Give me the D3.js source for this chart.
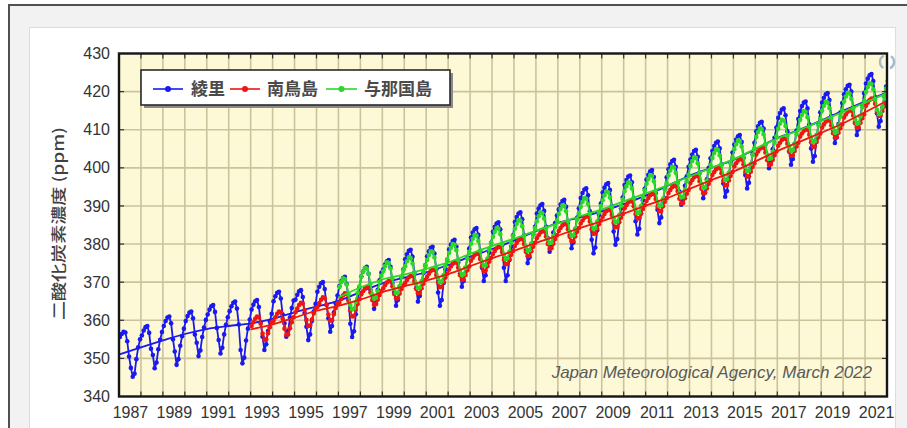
<!DOCTYPE html>
<html>
<head>
<meta charset="utf-8">
<script src="https://cdn.jsdelivr.net/npm/d3@7"></script>
<style>
  html, body { margin: 0; padding: 0; background: #ffffff; }
  svg { display: block; }
</style>
</head>
<body>
<svg id="chart" width="907" height="428"></svg>
<script>
// Monthly CO2 concentration (ppm), January to December, one row per year.
const ryoriStart = 1987;
const ryoriMonthly = [
  355.6, 356.4, 357.0, 356.8, 354.5, 350.5, 347.5, 345.2, 346.0, 349.8, 352.9, 355.0,
  356.0, 357.3, 358.2, 358.5, 356.7, 352.5, 350.9, 347.4, 348.9, 352.4, 354.9, 356.9,
  358.5, 359.8, 360.7, 361.0, 359.2, 355.0, 351.8, 348.3, 349.8, 353.3, 355.8, 357.8,
  359.8, 361.1, 362.0, 362.3, 360.5, 356.3, 354.1, 350.6, 352.1, 355.6, 358.1, 360.1,
  361.5, 362.8, 363.7, 364.0, 362.2, 358.0, 354.8, 351.3, 352.8, 356.3, 358.8, 360.8,
  362.4, 363.7, 364.6, 364.9, 363.1, 358.9, 352.2, 348.7, 350.2, 354.7, 357.8, 360.2,
  362.8, 364.1, 365.0, 365.3, 363.5, 359.3, 355.7, 352.2, 353.7, 357.2, 359.7, 361.7,
  365.0, 366.3, 367.2, 367.5, 365.7, 361.5, 359.2, 355.7, 357.2, 360.7, 363.2, 365.2,
  365.4, 366.7, 367.6, 367.9, 366.1, 361.9, 358.3, 354.8, 356.3, 359.8, 362.3, 364.3,
  367.5, 368.8, 369.7, 370.0, 368.2, 364.0, 360.5, 357.0, 358.5, 362.0, 364.5, 366.5,
  368.9, 370.2, 371.1, 371.4, 369.6, 365.4, 359.1, 355.6, 357.1, 361.6, 365.6, 368.6,
  371.5, 372.8, 373.7, 374.0, 372.2, 368.0, 366.5, 363.0, 364.5, 368.0, 370.5, 372.5,
  373.3, 374.6, 375.5, 375.8, 374.0, 369.8, 367.3, 363.8, 365.3, 368.8, 371.3, 373.3,
  376.0, 377.3, 378.2, 378.5, 376.7, 372.5, 368.4, 364.9, 366.4, 369.9, 372.4, 374.4,
  376.8, 378.1, 379.0, 379.3, 377.5, 373.3, 367.3, 363.8, 365.3, 369.8, 373.3, 375.8,
  378.6, 379.9, 380.8, 381.1, 379.3, 375.1, 372.3, 368.8, 370.3, 373.8, 376.3, 378.8,
  381.7, 383.0, 383.9, 384.2, 382.4, 378.2, 373.8, 370.3, 371.8, 375.3, 377.8, 380.3,
  383.2, 384.5, 385.4, 385.7, 383.9, 379.7, 373.8, 370.3, 371.8, 375.8, 379.3, 382.3,
  385.8, 387.1, 388.0, 388.3, 386.5, 382.3, 378.5, 375.0, 376.5, 380.0, 382.5, 384.5,
  388.0, 389.3, 390.2, 390.5, 388.7, 384.5, 381.5, 378.0, 379.5, 383.0, 385.5, 387.5,
  389.1, 390.4, 391.3, 391.6, 389.8, 385.6, 382.4, 378.9, 380.4, 383.9, 386.9, 389.4,
  392.1, 393.4, 394.3, 394.6, 392.8, 388.6, 381.1, 377.6, 379.1, 383.6, 387.6, 390.6,
  393.5, 394.8, 395.7, 396.0, 394.2, 390.0, 383.3, 379.8, 381.3, 385.8, 389.3, 392.3,
  395.5, 396.8, 397.7, 398.0, 396.2, 392.0, 386.0, 382.5, 384.0, 388.0, 391.5, 394.5,
  396.9, 398.2, 399.1, 399.4, 397.6, 393.4, 389.0, 385.5, 387.0, 391.0, 394.5, 397.5,
  399.6, 400.9, 401.8, 402.1, 400.3, 396.1, 393.8, 390.3, 391.8, 395.3, 397.8, 400.3,
  402.2, 403.5, 404.4, 404.7, 402.9, 398.7, 395.5, 392.0, 393.5, 397.0, 400.0, 402.5,
  404.4, 405.7, 406.6, 406.9, 405.1, 400.9, 395.9, 392.4, 393.9, 397.9, 401.4, 404.0,
  406.1, 407.4, 408.3, 408.6, 406.8, 402.6, 398.1, 394.6, 396.1, 400.1, 403.6, 406.6,
  409.6, 410.9, 411.8, 412.1, 410.3, 406.1, 403.4, 399.9, 401.4, 404.9, 407.9, 410.6,
  413.1, 414.4, 415.3, 415.6, 413.8, 409.6, 404.3, 400.8, 402.3, 406.3, 409.8, 412.8,
  414.9, 416.2, 417.1, 417.4, 415.6, 411.4, 405.1, 401.6, 403.1, 407.6, 411.6, 414.6,
  417.1, 418.4, 419.3, 419.6, 417.8, 413.6, 410.0, 406.5, 408.0, 411.5, 414.5, 417.0,
  419.3, 420.6, 421.5, 421.8, 420.0, 415.8, 412.1, 408.6, 410.1, 413.6, 416.6, 419.6,
  422.1, 423.4, 424.3, 424.6, 422.8, 418.6, 414.3, 410.8, 412.3, 415.8, 418.8, 421.3,
  422.8
];

const minamitorishimaStart = 1993;
const minamitorishimaMonthly = [
  358.5, 359.5, 360.4, 361.0, 360.8, 359.1, 356.5, 354.9, 355.0, 356.6, 358.2, 359.5,
  359.8, 360.8, 361.7, 362.3, 362.1, 360.4, 357.8, 356.2, 356.3, 357.9, 359.5, 360.8,
  362.1, 363.1, 364.0, 364.6, 364.4, 362.7, 360.1, 358.5, 358.6, 360.2, 361.8, 363.1,
  363.5, 364.5, 365.4, 366.0, 365.8, 364.1, 361.5, 359.9, 360.0, 361.6, 363.2, 364.5,
  364.6, 365.6, 366.5, 367.1, 366.9, 365.2, 362.6, 361.0, 361.1, 362.7, 364.3, 365.6,
  366.8, 367.6, 368.3, 368.7, 368.6, 367.3, 365.3, 364.1, 364.2, 365.4, 366.6, 367.6,
  368.4, 369.2, 369.9, 370.3, 370.2, 368.9, 366.9, 365.7, 365.8, 367.0, 368.2, 369.2,
  369.8, 370.6, 371.3, 371.7, 371.6, 370.3, 368.3, 367.1, 367.2, 368.4, 369.6, 370.6,
  371.4, 372.2, 372.9, 373.3, 373.2, 371.9, 369.9, 368.7, 368.8, 370.0, 371.2, 372.2,
  373.3, 374.1, 374.8, 375.2, 375.1, 373.8, 371.8, 370.6, 370.7, 371.9, 373.1, 374.1,
  375.6, 376.4, 377.1, 377.5, 377.4, 376.1, 374.1, 372.9, 373.0, 374.2, 375.4, 376.4,
  377.4, 378.2, 378.9, 379.3, 379.2, 377.9, 375.9, 374.7, 374.8, 376.0, 377.2, 378.2,
  379.5, 380.3, 381.0, 381.4, 381.3, 380.0, 378.0, 376.8, 376.9, 378.1, 379.3, 380.3,
  381.5, 382.3, 383.0, 383.4, 383.3, 382.0, 380.0, 378.8, 378.9, 380.1, 381.3, 382.3,
  383.4, 384.2, 384.9, 385.3, 385.2, 383.9, 381.9, 380.7, 380.8, 382.0, 383.2, 384.2,
  385.4, 386.2, 386.9, 387.3, 387.2, 385.9, 383.9, 382.7, 382.8, 384.0, 385.2, 386.2,
  387.1, 387.9, 388.6, 389.0, 388.9, 387.6, 385.6, 384.4, 384.5, 385.7, 386.9, 387.9,
  389.4, 390.2, 390.9, 391.3, 391.2, 389.9, 387.9, 386.7, 386.8, 388.0, 389.2, 390.2,
  391.3, 392.1, 392.8, 393.2, 393.1, 391.8, 389.8, 388.6, 388.7, 389.9, 391.1, 392.1,
  393.4, 394.2, 394.9, 395.3, 395.2, 393.9, 391.9, 390.7, 390.8, 392.0, 393.2, 394.2,
  396.0, 396.8, 397.5, 397.9, 397.8, 396.5, 394.5, 393.3, 393.4, 394.6, 395.8, 396.8,
  398.1, 398.9, 399.6, 400.0, 399.9, 398.6, 396.6, 395.4, 395.5, 396.7, 397.9, 398.9,
  400.4, 401.2, 401.9, 402.3, 402.2, 400.9, 398.9, 397.7, 397.8, 399.0, 400.2, 401.2,
  403.5, 404.3, 405.0, 405.4, 405.3, 404.0, 402.0, 400.8, 400.9, 402.1, 403.3, 404.3,
  405.8, 406.6, 407.3, 407.7, 407.6, 406.3, 404.3, 403.1, 403.2, 404.4, 405.6, 406.6,
  408.2, 409.0, 409.7, 410.1, 410.0, 408.7, 406.7, 405.5, 405.6, 406.8, 408.0, 409.0,
  410.6, 411.4, 412.1, 412.5, 412.4, 411.1, 409.1, 407.9, 408.0, 409.2, 410.4, 411.4,
  413.2, 414.0, 414.7, 415.1, 415.0, 413.7, 411.7, 410.5, 410.6, 411.8, 413.0, 414.0,
  416.3, 417.1, 417.8, 418.2, 418.1, 416.8, 414.8, 413.6, 413.7, 414.9, 416.1, 417.1,
  417.8
];

const yonagunijimaStart = 1997;
const yonagunijimaMonthly = [
  368.7, 370.0, 371.0, 370.8, 369.4, 366.8, 364.0, 362.9, 363.1, 364.8, 367.2, 368.9,
  371.5, 372.8, 373.8, 373.6, 372.2, 369.6, 366.8, 365.7, 365.9, 367.6, 370.0, 371.7,
  372.9, 374.2, 375.2, 375.0, 373.6, 371.0, 368.2, 367.1, 367.3, 369.0, 371.4, 373.1,
  374.2, 375.5, 376.5, 376.3, 374.9, 372.3, 369.5, 368.4, 368.6, 370.3, 372.7, 374.4,
  375.8, 377.1, 378.1, 377.9, 376.5, 373.9, 371.1, 370.0, 370.2, 371.9, 374.3, 376.0,
  377.7, 379.0, 380.0, 379.8, 378.4, 375.8, 373.0, 371.9, 372.1, 373.8, 376.2, 377.9,
  380.1, 381.4, 382.4, 382.2, 380.8, 378.2, 375.4, 374.3, 374.5, 376.2, 378.6, 380.3,
  381.9, 383.2, 384.2, 384.0, 382.6, 380.0, 377.2, 376.1, 376.3, 378.0, 380.4, 382.1,
  384.0, 385.3, 386.3, 386.1, 384.7, 382.1, 379.3, 378.2, 378.4, 380.1, 382.5, 384.2,
  386.0, 387.3, 388.3, 388.1, 386.7, 384.1, 381.3, 380.2, 380.4, 382.1, 384.5, 386.2,
  387.9, 389.2, 390.2, 390.0, 388.6, 386.0, 383.2, 382.1, 382.3, 384.0, 386.4, 388.1,
  389.8, 391.1, 392.1, 391.9, 390.5, 387.9, 385.1, 384.0, 384.2, 385.9, 388.3, 390.0,
  391.5, 392.8, 393.8, 393.6, 392.2, 389.6, 386.8, 385.7, 385.9, 387.6, 390.0, 391.7,
  393.9, 395.2, 396.2, 396.0, 394.6, 392.0, 389.2, 388.1, 388.3, 390.0, 392.4, 394.1,
  395.8, 397.1, 398.1, 397.9, 396.5, 393.9, 391.1, 390.0, 390.2, 391.9, 394.3, 396.0,
  398.0, 399.3, 400.3, 400.1, 398.7, 396.1, 393.3, 392.2, 392.4, 394.1, 396.5, 398.2,
  400.5, 401.8, 402.8, 402.6, 401.2, 398.6, 395.8, 394.7, 394.9, 396.6, 399.0, 400.7,
  402.6, 403.9, 404.9, 404.7, 403.3, 400.7, 397.9, 396.8, 397.0, 398.7, 401.1, 402.8,
  404.9, 406.2, 407.2, 407.0, 405.6, 403.0, 400.2, 399.1, 399.3, 401.0, 403.4, 405.1,
  408.1, 409.4, 410.4, 410.2, 408.8, 406.2, 403.4, 402.3, 402.5, 404.2, 406.6, 408.3,
  410.3, 411.6, 412.6, 412.4, 411.0, 408.4, 405.6, 404.5, 404.7, 406.4, 408.8, 410.5,
  412.6, 413.9, 414.9, 414.7, 413.3, 410.7, 407.9, 406.8, 407.0, 408.7, 411.1, 412.8,
  415.0, 416.3, 417.3, 417.1, 415.7, 413.1, 410.3, 409.2, 409.4, 411.1, 413.5, 415.2,
  417.4, 418.7, 419.7, 419.5, 418.1, 415.5, 412.7, 411.6, 411.8, 413.5, 415.9, 417.6,
  419.9, 421.2, 422.2, 422.0, 420.6, 418.0, 415.2, 414.1, 414.3, 416.0, 418.6, 420.8,
  421.8
];

// Deseasonalized trend (ppm) on 1 January of each year.
const ryoriTrend = [
  351.0, 352.9, 354.7, 356.4, 357.7, 358.5, 359.2, 360.4, 362.1, 363.6,
  365.1, 367.4, 369.7, 371.2, 372.6, 374.5, 376.7, 378.7, 380.9, 383.4,
  385.5, 387.0, 388.6, 390.5, 392.7, 395.3, 397.9, 400.0, 402.1, 404.9,
  407.8, 410.0, 412.4, 415.0, 417.4, 419.8
];
const minamitorishimaTrend = [
  357.6, 358.9, 360.7, 362.5, 363.8, 365.4, 367.4, 368.9, 370.4, 372.1,
  374.2, 376.3, 378.2, 380.3, 382.2, 384.2, 386.0, 388.0, 390.1, 392.1,
  394.5, 396.8, 399.0, 401.7, 404.4, 406.8, 409.2, 411.7, 414.6, 417.6
];
const yonagunijimaTrend = [
  366.0, 368.6, 370.7, 372.0, 373.5, 375.2, 377.4, 379.5, 381.4, 383.5,
  385.4, 387.3, 389.1, 391.2, 393.3, 395.4, 397.7, 400.0, 402.2, 405.0,
  407.7, 409.9, 412.3, 414.7, 417.1, 419.6
];

const stationNames = ["綾里", "南鳥島", "与那国島"];
const yTicks = [340, 350, 360, 370, 380, 390, 400, 410, 420, 430];
const xLabelYears = [1987, 1989, 1991, 1993, 1995, 1997, 1999, 2001, 2003, 2005,
                     2007, 2009, 2011, 2013, 2015, 2017, 2019, 2021];
const yAxisTitle = "二酸化炭素濃度 (ppm)";
const creditText = "Japan Meteorological Agency, March 2022";

// ---- drawing ----
const svg = d3.select("#chart");
const colors = ["#1a1af0", "#ee1515", "#2ad82a"];
const latinFont = "'Liberation Sans', Arial, Helvetica, sans-serif";
const cjkFont = "'Noto Sans CJK JP', 'Noto Sans CJK SC', sans-serif";

const plot = { left: 119, right: 887, top: 53.5, bottom: 396.5 };
const x = d3.scaleLinear().domain([1987, 2022]).range([plot.left, plot.right]);
const y = d3.scaleLinear().domain([340, 430]).range([plot.bottom, plot.top]);

// page frame and white card
svg.append("rect").attr("width", 907).attr("height", 428).attr("fill", "#ffffff");
svg.append("rect").attr("x", 9).attr("y", 5).attr("width", 1000).attr("height", 1000)
  .attr("fill", "#f2f2f2").attr("stroke", "#505050").attr("stroke-width", 2);
svg.append("rect").attr("x", 29.5).attr("y", 27.5).attr("width", 866).attr("height", 500)
  .attr("fill", "#ffffff").attr("stroke", "#dddddd").attr("stroke-width", 1);

// plot background
svg.append("rect")
  .attr("x", plot.left).attr("y", plot.top)
  .attr("width", plot.right - plot.left).attr("height", plot.bottom - plot.top)
  .attr("fill", "#fdf8d6");

// grid: every year and every 10 ppm
const gridYears = d3.range(1988, 2022);
const grid = svg.append("g").attr("stroke", "#cbc39c").attr("stroke-width", 1.6);
grid.selectAll("line.v").data(gridYears).join("line").attr("class", "v")
  .attr("x1", d => x(d)).attr("x2", d => x(d))
  .attr("y1", plot.top).attr("y2", plot.bottom);
grid.selectAll("line.h").data(yTicks.slice(1, -1)).join("line").attr("class", "h")
  .attr("x1", plot.left).attr("x2", plot.right)
  .attr("y1", d => y(d)).attr("y2", d => y(d));

// credit line inside the plot
svg.append("text")
  .attr("x", 872).attr("y", 378)
  .attr("text-anchor", "end")
  .attr("font-family", latinFont).attr("font-style", "italic")
  .attr("font-size", 17).attr("fill", "#5a5a5a")
  .text(creditText);

// data
svg.append("clipPath").attr("id", "plotClip").append("rect")
  .attr("x", plot.left).attr("y", plot.top)
  .attr("width", plot.right - plot.left).attr("height", plot.bottom - plot.top);
const dataLayer = svg.append("g").attr("clip-path", "url(#plotClip)");

function monthlyPoints(startYear, values) {
  return values.map((v, i) => ({ t: startYear + (i + 0.5) / 12, v }));
}
function trendPoints(startYear, values) {
  return values.map((v, i) => ({ t: startYear + i, v }));
}

const series = [
  { monthly: monthlyPoints(ryoriStart, ryoriMonthly), trend: trendPoints(ryoriStart, ryoriTrend) },
  { monthly: monthlyPoints(minamitorishimaStart, minamitorishimaMonthly), trend: trendPoints(minamitorishimaStart, minamitorishimaTrend) },
  { monthly: monthlyPoints(yonagunijimaStart, yonagunijimaMonthly), trend: trendPoints(yonagunijimaStart, yonagunijimaTrend) }
];

const line = d3.line().x(d => x(d.t)).y(d => y(d.v));
const smooth = d3.line().x(d => x(d.t)).y(d => y(d.v)).curve(d3.curveMonotoneX);

function drawMonthly(k) {
  const s = series[k];
  const g = dataLayer.append("g");
  g.append("path").datum(s.monthly)
    .attr("d", line).attr("fill", "none")
    .attr("stroke", colors[k]).attr("stroke-width", 1.8).attr("stroke-linejoin", "round");
  g.selectAll("circle").data(s.monthly).join("circle")
    .attr("cx", d => x(d.t)).attr("cy", d => y(d.v)).attr("r", 2.3)
    .attr("fill", colors[k]);
}
function drawTrend(k) {
  dataLayer.append("path").datum(series[k].trend)
    .attr("d", smooth).attr("fill", "none")
    .attr("stroke", colors[k]).attr("stroke-width", 1.8);
}
// stacking: Ryori, Minamitorishima, Yonagunijima; the Minamitorishima trend stays on top
drawMonthly(0);
drawTrend(0);
drawMonthly(1);
drawMonthly(2);
drawTrend(2);
drawTrend(1);

// inner tick marks
const ticks = svg.append("g").attr("stroke", "#333").attr("stroke-width", 1.2);
ticks.selectAll("line.tb").data(gridYears).join("line").attr("class", "tb")
  .attr("x1", d => x(d)).attr("x2", d => x(d))
  .attr("y1", plot.bottom).attr("y2", plot.bottom - 5);
ticks.selectAll("line.tt").data(gridYears).join("line").attr("class", "tt")
  .attr("x1", d => x(d)).attr("x2", d => x(d))
  .attr("y1", plot.top).attr("y2", plot.top + 5);
ticks.selectAll("line.tl").data(yTicks.slice(1, -1)).join("line").attr("class", "tl")
  .attr("x1", plot.left).attr("x2", plot.left + 5)
  .attr("y1", d => y(d)).attr("y2", d => y(d));
ticks.selectAll("line.tr").data(yTicks.slice(1, -1)).join("line").attr("class", "tr")
  .attr("x1", plot.right).attr("x2", plot.right - 5)
  .attr("y1", d => y(d)).attr("y2", d => y(d));

// plot frame
svg.append("rect")
  .attr("x", plot.left).attr("y", plot.top)
  .attr("width", plot.right - plot.left).attr("height", plot.bottom - plot.top)
  .attr("fill", "none").attr("stroke", "#151515").attr("stroke-width", 2.4);

// axes (labels only)
const xAxis = d3.axisBottom(x)
  .tickValues(xLabelYears.map(v => v + 0.5))
  .tickFormat(d => String(Math.floor(d)))
  .tickSize(0).tickPadding(10);
const gx = svg.append("g").attr("transform", `translate(0,${plot.bottom})`).call(xAxis);
gx.select(".domain").remove();
gx.selectAll("text").attr("font-family", latinFont).attr("font-size", 16).attr("fill", "#333");

const yAxis = d3.axisLeft(y).tickValues(yTicks).tickSize(0).tickPadding(9);
const gy = svg.append("g").attr("transform", `translate(${plot.left},0)`).call(yAxis);
gy.select(".domain").remove();
gy.selectAll("text").attr("font-family", latinFont).attr("font-size", 16).attr("fill", "#333");

// y axis title
svg.append("text")
  .attr("transform", "translate(64,223.5) rotate(-90)")
  .attr("text-anchor", "middle")
  .attr("font-family", cjkFont).attr("font-size", 15).attr("font-weight", 500)
  .attr("fill", "#404040")
  .attr("textLength", 193).attr("lengthAdjust", "spacingAndGlyphs")
  .text(yAxisTitle);

// legend
const legend = svg.append("g");
legend.append("rect").attr("x", 144).attr("y", 73).attr("width", 309).attr("height", 35)
  .attr("fill", "#8a8a8a");
legend.append("rect").attr("x", 141).attr("y", 70).attr("width", 309).attr("height", 35)
  .attr("fill", "#ffffff").attr("stroke", "#2a2a2a").attr("stroke-width", 1.6);
const legendItems = [
  { x0: 153, x1: 183, tx: 191 },
  { x0: 230, x1: 260, tx: 267 },
  { x0: 326, x1: 357, tx: 364 }
];
legendItems.forEach((it, k) => {
  legend.append("line").attr("x1", it.x0).attr("x2", it.x1).attr("y1", 89).attr("y2", 89)
    .attr("stroke", colors[k]).attr("stroke-width", 1.6);
  legend.append("circle").attr("cx", (it.x0 + it.x1) / 2).attr("cy", 89).attr("r", 3)
    .attr("fill", colors[k]);
  legend.append("text").attr("x", it.tx).attr("y", 95)
    .attr("font-family", cjkFont).attr("font-size", 17).attr("font-weight", 700)
    .attr("fill", "#4a4a4a")
    .text(stationNames[k]);
});

// small rotate icon in the top right corner of the card
const icon = svg.append("g").attr("transform", "translate(887,62)")
  .attr("fill", "none").attr("stroke", "#a9b9c9").attr("stroke-width", 2.4);
icon.append("path").attr("d", d3.arc()({ innerRadius: 7, outerRadius: 7, startAngle: 0.6, endAngle: 2.7 }));
icon.append("path").attr("d", d3.arc()({ innerRadius: 7, outerRadius: 7, startAngle: 3.7, endAngle: 5.8 }));
</script>
</body>
</html>
